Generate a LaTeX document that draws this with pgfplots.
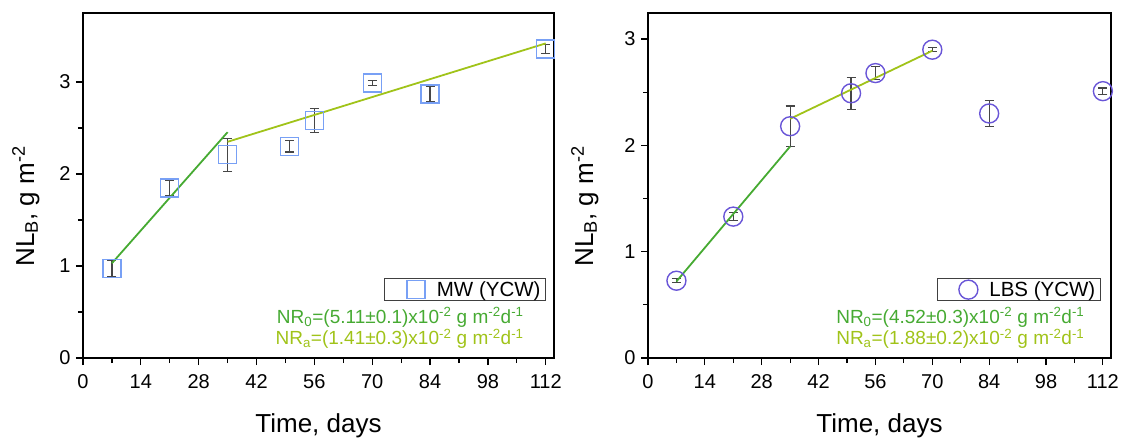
\documentclass[border=0pt]{standalone}
\usepackage{fontspec}
\setmainfont{Liberation Sans}
\usepackage{pgfplots}
\pgfplotsset{compat=1.18}
\definecolor{sqblue}{RGB}{120,160,245}
\definecolor{cirblue}{RGB}{105,85,215}
\definecolor{fitgreen}{RGB}{70,170,50}
\definecolor{fitlime}{RGB}{160,195,25}
\definecolor{errgray}{RGB}{70,70,70}
\tikzset{nr/.style={anchor=base east, font=\fontsize{19}{21}\selectfont}}

\pgfplotsset{
  panel/.style={
    scale only axis, width=471pt, height=345pt,
    xmin=0, xmax=114, ymin=0,
    xtick={0,14,...,112}, minor x tick num=1,
    ytick={0,1,2,3}, minor y tick num=1,
    xtick pos=bottom, ytick pos=left,
    tick align=outside,
    major tick length=7pt, minor tick length=5pt,
    axis line style={line width=1.4pt},
    every tick/.style={line width=1.2pt, black},
    /pgf/number format/assume math mode=true,
    ticklabel style={font=\fontsize{20}{22}\selectfont},
    xticklabel style={yshift=-6pt},
    yticklabel style={xshift=-2pt},
    xlabel={Time, days},
    xlabel style={font=\fontsize{26}{28}\selectfont, at={(rel axis cs:0.5,0)}, anchor=base, yshift=-74pt},
    ylabel={NL\textsubscript{B}, g m\textsuperscript{-2}},
    ylabel style={font=\fontsize{26}{28}\selectfont, at={(rel axis cs:0,0.44)}, anchor=base, yshift=49pt},
    legend style={draw=black!75, line width=1pt, font=\fontsize{20.5}{22}\selectfont,
      inner xsep=3pt, inner ysep=1pt, legend cell align=left},
    legend image code/.code={\path[draw=none, fill=none] (0pt,-1pt) rectangle (47pt,1pt); \draw[#1] plot coordinates {(28pt,0pt)};},
  },
  errs/.style={
    error bars/y dir=both, error bars/y explicit,
    error bars/error bar style={errgray, line width=1.2pt},
    error bars/error mark options={rotate=90, mark size=4.5pt, errgray, line width=1.2pt},
  },
}

\begin{document}
\begin{tikzpicture}
\path[use as bounding box] (0pt,0pt) rectangle (1132pt,440pt);

% left panel: MW (YCW)
\begin{axis}[panel, at={(83pt,82pt)}, anchor=south west, ymax=3.75,
  legend style={at={(rel axis cs:0.983,0.232)}, anchor=north east},
  extra description/.code={
    \node[nr, text=fitgreen] at (rel axis cs:0.943,0.101)
      {NR\textsubscript{0}=(5.11±0.1)x10\textsuperscript{-2} g m\textsuperscript{-2}d\textsuperscript{-1}};
    \node[nr, text=fitlime] at (rel axis cs:0.943,0.038)
      {NR\textsubscript{a}=(1.41±0.3)x10\textsuperscript{-2} g m\textsuperscript{-2}d\textsuperscript{-1}};
  }]
\addplot[only marks, errs, mark=square, mark size=9pt, mark options={sqblue, line width=1.4pt}]
  coordinates {
    (7,0.975) +- (0,0.087)
    (21,1.85) +- (0,0.08)
    (35,2.21) +- (0,0.18)
    (50,2.30) +- (0,0.06)
    (56,2.58) +- (0,0.13)
    (70,2.99) +- (0,0.03)
    (84,2.87) +- (0,0.08)
    (112,3.36) +- (0,0.05)
  };
\addlegendentry{MW (YCW)}
\addplot[fitgreen, line width=1.8pt, forget plot] coordinates {(7,1.03) (35,2.455)};
\addplot[fitlime, line width=1.8pt, forget plot] coordinates {(35,2.35) (112,3.42)};
\end{axis}

% right panel: LBS (YCW)
\begin{axis}[panel, at={(648pt,82pt)}, anchor=south west, width=463pt, ymax=3.245,
  ylabel style={yshift=6pt},
  legend style={at={(rel axis cs:0.978,0.232)}, anchor=north east},
  extra description/.code={
    \node[nr, text=fitgreen] at (rel axis cs:0.950,0.101)
      {NR\textsubscript{0}=(4.52±0.3)x10\textsuperscript{-2} g m\textsuperscript{-2}d\textsuperscript{-1}};
    \node[nr, text=fitlime] at (rel axis cs:0.950,0.038)
      {NR\textsubscript{a}=(1.88±0.2)x10\textsuperscript{-2} g m\textsuperscript{-2}d\textsuperscript{-1}};
  }]
\addplot[only marks, errs, mark=o, mark size=9.5pt, mark options={cirblue, line width=1.4pt}]
  coordinates {
    (7,0.727) +- (0,0.02)
    (21,1.33) +- (0,0.04)
    (35,2.18) +- (0,0.19)
    (50,2.49) +- (0,0.15)
    (56,2.68) +- (0,0.06)
    (70,2.90) +- (0,0.02)
    (84,2.30) +- (0,0.12)
    (112,2.51) +- (0,0.03)
  };
\addlegendentry{LBS (YCW)}
\addplot[fitgreen, line width=1.8pt, forget plot] coordinates {(7,0.72) (35,1.99)};
\addplot[fitlime, line width=1.8pt, forget plot] coordinates {(35,2.25) (70,2.89)};
\end{axis}
\end{tikzpicture}
\end{document}
